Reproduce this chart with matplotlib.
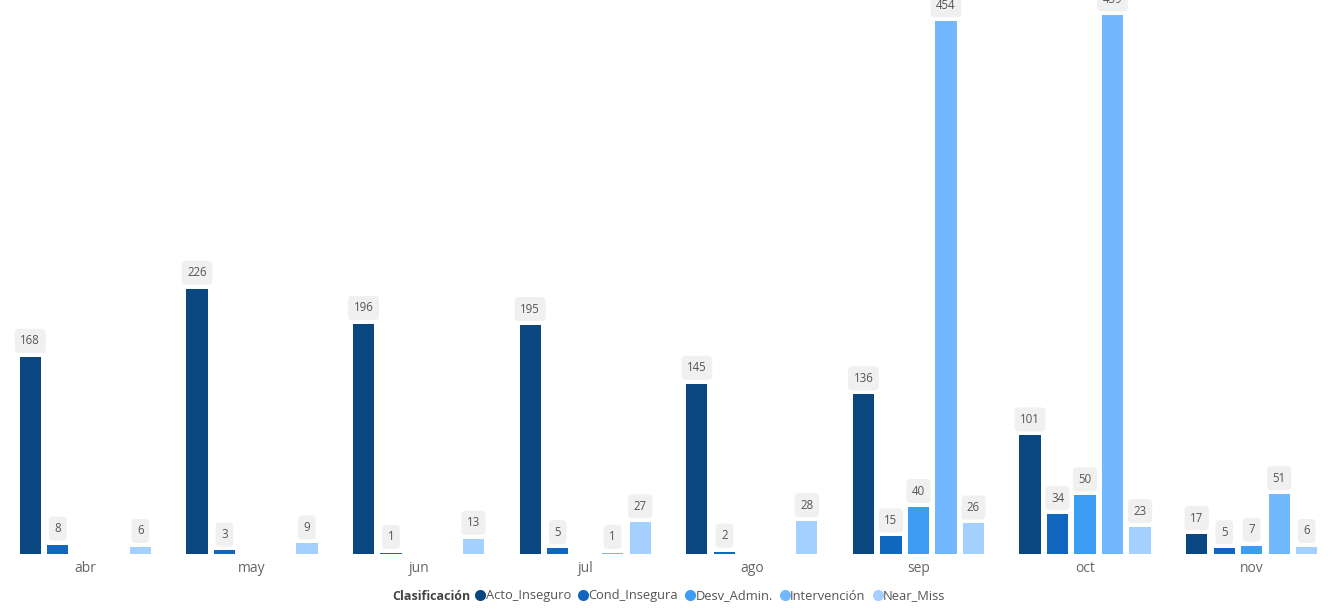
import numpy as np
import matplotlib
matplotlib.use("Agg")
import matplotlib.pyplot as plt
from matplotlib.lines import Line2D

months = ["abr", "may", "jun", "jul", "ago", "sep", "oct", "nov"]
series_names = ["Acto_Inseguro", "Cond_Insegura", "Desv_Admin.", "Intervención", "Near_Miss"]
acto = [168, 226, 196, 195, 145, 136, 101, 17]
cond = [8, 3, 1, 5, 2, 15, 34, 5]
desv = [np.nan, np.nan, np.nan, np.nan, np.nan, 40, 50, 7]
interv = [np.nan, np.nan, np.nan, 1, np.nan, 454, 459, 51]
near = [6, 9, 13, 27, 28, 26, 23, 6]
colors = ["#0A4780", "#1166BE", "#3D9DF5", "#72B8FF", "#A3D0FF"]

plt.rcParams['font.family'] = ['Open Sans', 'DejaVu Sans']

fig = plt.figure(figsize=(13.39, 6.10), dpi=100)
ax = fig.add_axes([2/1339, 56/610, 1333/1339, 554/610])

data = [acto, cond, desv, interv, near]
x = np.arange(len(months))
step = 0.165
width = 0.127
for i, (vals, c) in enumerate(zip(data, colors)):
    pos = x + (i - 2) * step
    v = np.array(vals, dtype=float)
    ax.bar(pos, np.nan_to_num(v), width=width, color=c, edgecolor='none', zorder=2)
    for p, val in zip(pos, v):
        if np.isnan(val):
            continue
        ax.annotate(f"{int(val)}", (p, val), xytext=(0, 11.5), textcoords='offset points',
                    ha='center', va='center', fontsize=8.3, color='#555555',
                    bbox=dict(boxstyle='round,pad=0.48,rounding_size=0.35', fc='#F0F0F0', ec='none'),
                    annotation_clip=False, zorder=3)

ax.set_xlim(-0.5, len(months) - 0.5)
ax.set_ylim(0, 472)
ax.set_xticks(x)
ax.set_xticklabels(months, fontsize=10, color='#666666')
ax.tick_params(axis='x', length=0, pad=5)
ax.set_yticks([])
for s in ax.spines.values():
    s.set_visible(False)

fig.text(392/1339, 1 - 596/610, "Clasificación", fontsize=9, fontweight='bold', color='#444444',
         ha='left', va='center')
handles = [Line2D([0], [0], marker='o', linestyle='none', markersize=8, markerfacecolor=c,
                  markeredgecolor='none') for c in colors]
fig.legend(handles, series_names, loc='center left', bbox_to_anchor=(474/1339, 1 - 596/610),
           ncol=5, frameon=False, fontsize=9.3, labelcolor='#555555', handletextpad=-0.1,
           columnspacing=0.45, handlelength=1.0, borderaxespad=0, borderpad=0)

fig.savefig("out.png", dpi=100)
